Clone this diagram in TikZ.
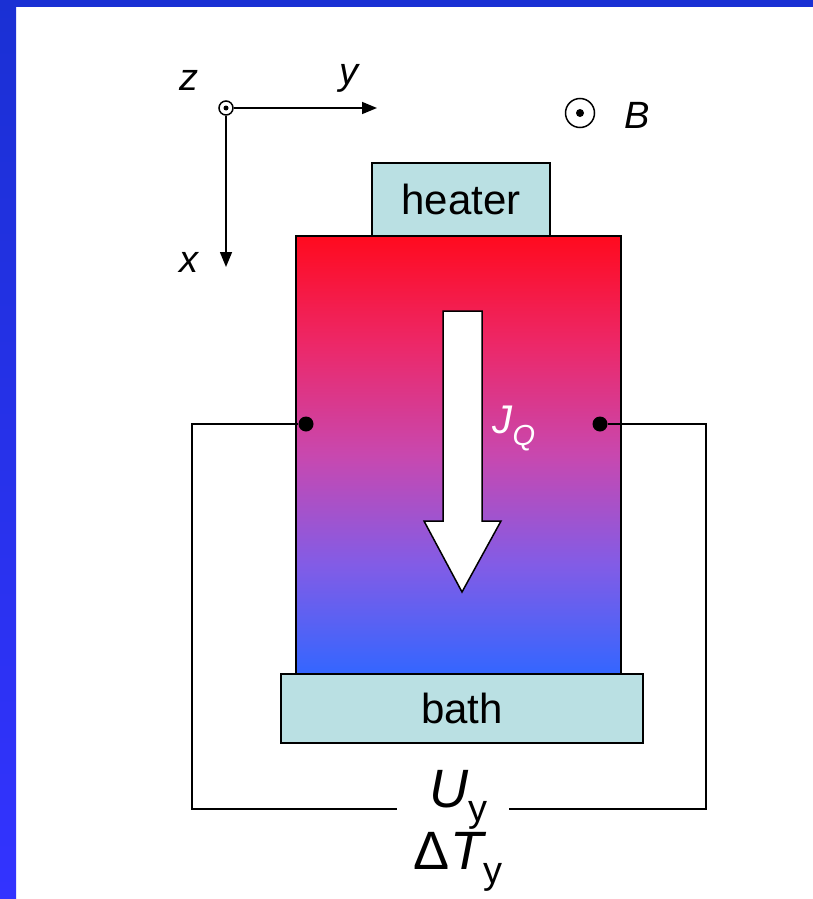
\documentclass[tikz,border=0pt]{standalone}
\usepackage{fontspec}
\setmainfont{Liberation Sans}
\usetikzlibrary{arrows.meta,positioning,calc}
\definecolor{slideblue}{RGB}{26,48,212}
\definecolor{slidebluelow}{RGB}{51,51,255}
\definecolor{plate}{RGB}{186,224,227}
\definecolor{hotred}{RGB}{255,10,30}
\definecolor{hotpink}{RGB}{236,40,105}
\definecolor{warmmagenta}{RGB}{200,72,175}
\definecolor{coolviolet}{RGB}{130,92,230}
\definecolor{coldblue}{RGB}{51,102,255}
\pgfdeclareverticalshading{thermal}{100bp}{color(0bp)=(coldblue); color(25bp)=(coldblue); color(37.5bp)=(coolviolet); color(50bp)=(warmmagenta); color(62.5bp)=(hotpink); color(75bp)=(hotred); color(100bp)=(hotred)}
\newcommand{\bigsym}[2]{{\fontsize{54}{60}\selectfont #1}\raisebox{-14pt}{\fontsize{38}{44}\selectfont #2}}

\begin{document}
\begin{tikzpicture}[x=1pt,y=-1pt,
  axis/.style={line width=1.5pt,-{Triangle[length=15pt,width=12pt]}},
  wire/.style={line width=1.5pt},
  plateblock/.style={draw,line width=2pt,fill=plate,font=\fontsize{42}{48}\selectfont,inner sep=0},
  axislabel/.style={font=\fontsize{38}{44}\selectfont\itshape},
  contact/.style={circle,fill,inner sep=0,minimum size=15pt}]
\useasboundingbox (0,0) rectangle (813,899);
\fill[white] (0,0) rectangle (813,899);
\fill[slideblue] (0,0) rectangle (813,7);
\shade[top color=slideblue,bottom color=slidebluelow] (0,0) rectangle (16,899);
% coordinate axes
\node[circle,draw,line width=1.5pt,inner sep=0,minimum size=14pt] (orig) at (226,108) {};
\fill (orig.center) circle (2.5pt);
\coordinate (yend) at (377,108);
\coordinate (xend) at (226,267);
\draw[axis] (orig) -- (yend);
\draw[axis] (orig) -- (xend);
\node[axislabel] (zlab) at (189,80) {z};
\node[axislabel] (ylab) at (349,78) {y};
\node[axislabel] (xlab) at (189,262) {x};
\node[circle,draw,line width=1.5pt,inner sep=0,minimum size=29pt] (bfield) at (580,113) {};
\fill (bfield.center) circle (4pt);
\node[axislabel] (blab) at (637,115) {B};
% sample between heater and bath
\node[plateblock,minimum width=178pt,minimum height=73pt] (heater) at (461,199.5) {heater};
\node[draw,line width=2pt,shading=thermal,minimum width=325pt,minimum height=439pt] (sample) at (458.5,455) {};
\node[plateblock,minimum width=362pt,minimum height=69pt] (bath) at (462,708.5) {bath};
\draw[line width=1.5pt,fill=white] (443,311) -- (482,311) -- (482,521) -- (501,521)
  -- (462,592) -- (424,521) -- (443,521) -- cycle;
\node[white,font=\fontsize{40}{44}\selectfont\itshape] (jq) at (514,428) {J\raisebox{-12pt}{\fontsize{29}{32}\selectfont Q}};
% voltage leads
\node[contact] (dotL) at (306,424) {};
\node[contact] (dotR) at (600,424) {};
\node (uy) at (458,800) {\bigsym{\itshape U}{y}};
\node (dty) at (458,862) {\bigsym{Δ\itshape T}{y}};
\coordinate (cornerL) at (192,809);
\coordinate (cornerR) at (706,809);
\coordinate (gapL) at (397,809);
\coordinate (gapR) at (509,809);
\draw[wire] (dotL) -| (cornerL) -- (gapL);
\draw[wire] (dotR) -| (cornerR) -- (gapR);
\end{tikzpicture}
\end{document}
